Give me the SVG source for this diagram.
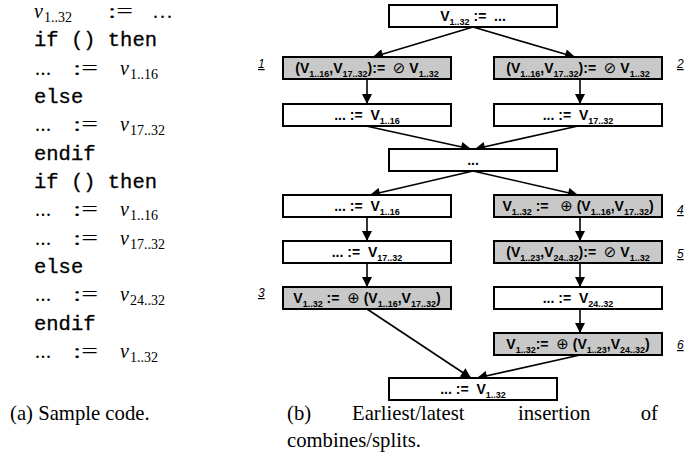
<svg xmlns="http://www.w3.org/2000/svg" width="688" height="461" viewBox="0 0 688 461">
<style>
.box{fill:#fff;stroke:#000;stroke-width:2}
.gbox{fill:#c8c8c8;stroke:#000;stroke-width:2}
.t{font-family:"Liberation Sans",Arial,sans-serif;font-weight:bold;font-size:14px;text-anchor:middle;fill:#000;white-space:pre}
.s{font-size:9px}
.sym{font-family:"DejaVu Sans",sans-serif;font-weight:normal;font-size:15px}
.lab{font-family:"Liberation Sans",Arial,sans-serif;font-style:italic;font-size:12px;text-decoration:underline}
.edge{stroke:#000;stroke-width:1.6;fill:none;marker-end:url(#ah)}
.mono{font-family:"Liberation Mono","DejaVu Sans Mono",monospace;font-size:20.5px;stroke:#000;stroke-width:0.3}
.rm{font-family:"Liberation Serif","Times New Roman",serif;font-size:20px}
.it{font-family:"Liberation Serif","Times New Roman",serif;font-size:20px;font-style:italic}
.sb{font-family:"Liberation Serif","Times New Roman",serif;font-size:14px}
.cap{font-family:"Liberation Serif","Times New Roman",serif;font-size:20.7px}
</style>
<defs>
<marker id="ah" viewBox="0 0 10 10" refX="10" refY="5" markerWidth="11" markerHeight="10" markerUnits="userSpaceOnUse" orient="auto"><path d="M0,0 L10,5 L0,10 z" fill="#000"/></marker>
</defs>

<g id="code">
<text class="it" x="34" y="18">v</text><text class="sb" x="44" y="22">1..32</text><text class="rm" x="108" y="18" textLength="25" lengthAdjust="spacingAndGlyphs">:=</text><text class="rm" x="153" y="18" textLength="19" lengthAdjust="spacing">...</text>
<text class="mono" x="34" y="46">if () then</text>
<text class="rm" x="35" y="75" textLength="16" lengthAdjust="spacing">...</text><text class="rm" x="73" y="75" textLength="25" lengthAdjust="spacingAndGlyphs">:=</text><text class="it" x="120" y="75">v</text><text class="sb" x="130" y="79">1..16</text>
<text class="mono" x="34" y="103">else</text>
<text class="rm" x="35" y="131" textLength="16" lengthAdjust="spacing">...</text><text class="rm" x="73" y="131" textLength="25" lengthAdjust="spacingAndGlyphs">:=</text><text class="it" x="120" y="131">v</text><text class="sb" x="130" y="135">17..32</text>
<text class="mono" x="34" y="160">endif</text>
<text class="mono" x="34" y="188">if () then</text>
<text class="rm" x="35" y="216" textLength="16" lengthAdjust="spacing">...</text><text class="rm" x="73" y="216" textLength="25" lengthAdjust="spacingAndGlyphs">:=</text><text class="it" x="120" y="216">v</text><text class="sb" x="130" y="220">1..16</text>
<text class="rm" x="35" y="245" textLength="16" lengthAdjust="spacing">...</text><text class="rm" x="73" y="245" textLength="25" lengthAdjust="spacingAndGlyphs">:=</text><text class="it" x="120" y="245">v</text><text class="sb" x="130" y="249">17..32</text>
<text class="mono" x="34" y="273">else</text>
<text class="rm" x="35" y="301" textLength="16" lengthAdjust="spacing">...</text><text class="rm" x="73" y="301" textLength="25" lengthAdjust="spacingAndGlyphs">:=</text><text class="it" x="120" y="301">v</text><text class="sb" x="130" y="305">24..32</text>
<text class="mono" x="34" y="330">endif</text>
<text class="rm" x="35" y="358" textLength="16" lengthAdjust="spacing">...</text><text class="rm" x="73" y="358" textLength="25" lengthAdjust="spacingAndGlyphs">:=</text><text class="it" x="120" y="358">v</text><text class="sb" x="130" y="362">1..32</text>
</g>

<g id="connectors">
<line class="edge" x1="473" y1="27" x2="373" y2="57"/>
<line class="edge" x1="473" y1="27" x2="575" y2="57"/>
<line class="edge" x1="367" y1="79" x2="367" y2="104"/>
<line class="edge" x1="580" y1="79" x2="580" y2="104"/>
<line class="edge" x1="366" y1="126" x2="471" y2="149"/>
<line class="edge" x1="578" y1="126" x2="475" y2="149"/>
<line class="edge" x1="473" y1="171" x2="370" y2="195"/>
<line class="edge" x1="473" y1="171" x2="578" y2="195"/>
<line class="edge" x1="367" y1="217" x2="367" y2="241"/>
<line class="edge" x1="580" y1="217" x2="580" y2="241"/>
<line class="edge" x1="367" y1="263" x2="367" y2="287"/>
<line class="edge" x1="580" y1="263" x2="580" y2="287"/>
<line class="edge" x1="580" y1="309" x2="580" y2="333"/>
<line class="edge" x1="367" y1="309" x2="471" y2="378"/>
<line class="edge" x1="580" y1="355" x2="477" y2="378"/>
</g>

<g id="n0"><rect class="box" x="389" y="5" width="168" height="22"/><text class="t" x="473" y="21">V<tspan class="s" dy="3.5">1..32</tspan><tspan dy="-3.5"> :=  ...</tspan></text></g>
<g id="n1"><rect class="gbox" x="283" y="57" width="168" height="22"/><text class="t" x="367" y="73">(V<tspan class="s" dy="3.5">1..16</tspan><tspan dy="-3.5">,V</tspan><tspan class="s" dy="3.5">17..32</tspan><tspan dy="-3.5">):=  </tspan><tspan class="sym">⊘</tspan> V<tspan class="s" dy="3.5">1..32</tspan></text></g>
<g id="n2"><rect class="gbox" x="494" y="57" width="168" height="22"/><text class="t" x="578" y="73">(V<tspan class="s" dy="3.5">1..16</tspan><tspan dy="-3.5">,V</tspan><tspan class="s" dy="3.5">17..32</tspan><tspan dy="-3.5">):=  </tspan><tspan class="sym">⊘</tspan> V<tspan class="s" dy="3.5">1..32</tspan></text></g>
<g id="n3"><rect class="box" x="283" y="104" width="168" height="22"/><text class="t" x="367" y="120">... :=  V<tspan class="s" dy="3.5">1..16</tspan></text></g>
<g id="n4"><rect class="box" x="494" y="104" width="168" height="22"/><text class="t" x="578" y="120">... :=  V<tspan class="s" dy="3.5">17..32</tspan></text></g>
<g id="n5"><rect class="box" x="389" y="149" width="168" height="22"/><text class="t" x="473" y="165">...</text></g>
<g id="n6"><rect class="box" x="283" y="195" width="168" height="22"/><text class="t" x="367" y="211">... :=  V<tspan class="s" dy="3.5">1..16</tspan></text></g>
<g id="n7"><rect class="gbox" x="494" y="195" width="168" height="22"/><text class="t" x="578" y="211">V<tspan class="s" dy="3.5">1..32</tspan><tspan dy="-3.5"> :=   </tspan><tspan class="sym">⊕</tspan> (V<tspan class="s" dy="3.5">1..16</tspan><tspan dy="-3.5">,V</tspan><tspan class="s" dy="3.5">17..32</tspan><tspan dy="-3.5">)</tspan></text></g>
<g id="n8"><rect class="box" x="283" y="241" width="168" height="22"/><text class="t" x="367" y="257">... :=  V<tspan class="s" dy="3.5">17..32</tspan></text></g>
<g id="n9"><rect class="gbox" x="494" y="241" width="168" height="22"/><text class="t" x="578" y="257">(V<tspan class="s" dy="3.5">1..23</tspan><tspan dy="-3.5">,V</tspan><tspan class="s" dy="3.5">24..32</tspan><tspan dy="-3.5">):=  </tspan><tspan class="sym">⊘</tspan> V<tspan class="s" dy="3.5">1..32</tspan></text></g>
<g id="n10"><rect class="gbox" x="283" y="287" width="168" height="22"/><text class="t" x="367" y="303">V<tspan class="s" dy="3.5">1..32</tspan><tspan dy="-3.5"> :=  </tspan><tspan class="sym">⊕</tspan> (V<tspan class="s" dy="3.5">1..16</tspan><tspan dy="-3.5">,V</tspan><tspan class="s" dy="3.5">17..32</tspan><tspan dy="-3.5">)</tspan></text></g>
<g id="n11"><rect class="box" x="494" y="287" width="168" height="22"/><text class="t" x="578" y="303">... :=  V<tspan class="s" dy="3.5">24..32</tspan></text></g>
<g id="n12"><rect class="gbox" x="494" y="333" width="168" height="22"/><text class="t" x="578" y="349">V<tspan class="s" dy="3.5">1..32</tspan><tspan dy="-3.5">:=  </tspan><tspan class="sym">⊕</tspan> (V<tspan class="s" dy="3.5">1..23</tspan><tspan dy="-3.5">,V</tspan><tspan class="s" dy="3.5">24..32</tspan><tspan dy="-3.5">)</tspan></text></g>
<g id="n13"><rect class="box" x="389" y="378" width="168" height="22"/><text class="t" x="473" y="394">... :=  V<tspan class="s" dy="3.5">1..32</tspan></text></g>

<g id="labels">
<text class="lab" x="258" y="68">1</text>
<text class="lab" x="677" y="68">2</text>
<text class="lab" x="258" y="297">3</text>
<text class="lab" x="677" y="214">4</text>
<text class="lab" x="677" y="258">5</text>
<text class="lab" x="677" y="349">6</text>
</g>

<g id="captions">
<text class="cap" x="10" y="420">(a) Sample code.</text>
<text class="cap" x="287" y="420">(b)</text>
<text class="cap" x="352" y="420">Earliest/latest</text>
<text class="cap" x="518" y="420">insertion</text>
<text class="cap" x="658" y="420" text-anchor="end">of</text>
<text class="cap" x="287" y="447">combines/splits.</text>
</g>
</svg>
